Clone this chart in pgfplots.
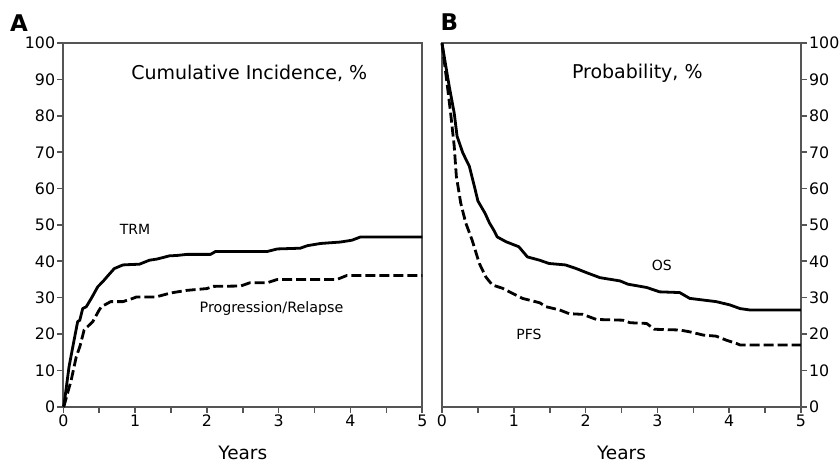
\documentclass[border=0pt]{standalone}
\usepackage{pgfplots}
\pgfplotsset{compat=1.18}
\usepackage{fontspec}
\setmainfont{DejaVu Sans}
\definecolor{axgray}{HTML}{555555}
\begin{document}
\begin{tikzpicture}
\path[use as bounding box] (0pt,0pt) rectangle (839pt,464pt);
\pgfplotsset{
 common/.style={
  scale only axis, width=359pt, height=363.5pt,
  xmin=0,xmax=5,ymin=0,ymax=100,
  xtick={0,1,2,3,4,5}, minor xtick={0.5,1.5,2.5,3.5,4.5},
  ytick={0,10,...,100},
  xtick pos=bottom,
  tick align=outside, major tick length=6pt, minor tick length=6pt,
  axis line style={draw=axgray, line width=1.9pt},
  every outer x axis line/.append style={draw=axgray, line width=1.9pt},
  every outer y axis line/.append style={draw=axgray, line width=1.9pt},
  tick style={draw=axgray, line width=1.6pt},
  tick label style={font=\fontsize{15.8}{18}\selectfont},
  xticklabel style={inner sep=2pt},
  yticklabel style={inner xsep=2pt},
  /pgf/number format/assume math mode=true,
  xlabel={Years},
  xlabel style={font=\fontsize{18.5}{22}\selectfont, at={(rel axis cs:0.5,0)}, anchor=center, yshift=-46pt},
  anchor=south west,
  clip=false,
 },
 solidc/.style={black, line width=2.8pt, line join=round, no markers},
 dashc/.style={black, line width=2.8pt, line join=round, no markers, dash pattern=on 10pt off 4pt},
}
\begin{axis}[common, at={(63.3pt,57.3pt)}, ytick pos=left]
\addplot[solidc] coordinates {
(0,0) (0.01,0.5) (0.08,11) (0.15,18.3) (0.2,23.4) (0.23,23.8) (0.27,27) (0.32,27.5)
(0.39,29.8) (0.48,33) (0.55,34.4) (0.62,36) (0.71,38) (0.83,39) (0.93,39.1)
(1.06,39.2) (1.2,40.3) (1.3,40.6) (1.48,41.5) (1.58,41.6) (1.72,41.9) (2.05,41.9)
(2.12,42.7) (2.84,42.7) (2.98,43.4) (3.3,43.6) (3.4,44.3) (3.58,44.9) (3.86,45.3)
(4.02,45.8) (4.14,46.7) (5,46.7)};
\addplot[dashc] coordinates {
(0,0) (0.01,0.2) (0.11,7.3) (0.18,13.7) (0.23,16.5) (0.29,21.1) (0.41,23.4)
(0.5,26.6) (0.53,27.5) (0.66,28.9) (0.83,28.9) (0.97,29.8) (1.02,30.2) (1.29,30.2)
(1.48,31.2) (1.53,31.4) (1.72,32) (2.0,32.5) (2.09,33.1) (2.47,33.2) (2.6,34.1)
(2.84,34.1) (2.98,35) (3.81,35) (3.95,36.1) (5,36.1)};
\node[font=\fontsize{19}{22}\selectfont] at (axis cs:2.59,91.6) {Cumulative Incidence, \%};
\node[font=\fontsize{14}{17}\selectfont] at (axis cs:1.0,48.9) {TRM};
\node[font=\fontsize{14.3}{17}\selectfont] at (axis cs:2.9,26.9) {Progression/Relapse};
\end{axis}
\begin{axis}[common, at={(442pt,57.3pt)}, ytick pos=right, yticklabel pos=right]
\addplot[solidc] coordinates {
(0,100) (0.1,88.2) (0.17,80.8) (0.21,74.4) (0.29,69.8) (0.38,66.2) (0.45,60.7)
(0.5,56.6) (0.6,53.2) (0.66,50.6) (0.72,48.6) (0.77,46.7) (0.89,45.4) (1.07,44)
(1.19,41.2) (1.36,40.3) (1.49,39.4) (1.72,39) (1.87,38) (2.01,36.9)
(2.2,35.5) (2.48,34.6) (2.59,33.7) (2.85,32.8) (3.03,31.6) (3.31,31.4) (3.45,29.8)
(3.82,28.9) (4.01,28) (4.15,27) (4.29,26.6) (5,26.6)};
\addplot[dashc] coordinates {
(0,100) (0.075,88.2) (0.12,80.8) (0.17,71.7) (0.2,63.4) (0.26,56.1) (0.33,50.6)
(0.42,45.8) (0.52,39.4) (0.61,35.7) (0.7,33.5) (0.84,32.6) (1.12,29.8) (1.36,28.6)
(1.45,27.5) (1.64,26.6) (1.77,25.6) (1.96,25.4) (2.15,24)
(2.52,23.8) (2.62,23.1) (2.85,22.9) (2.96,21.3) (3.31,21.1) (3.45,20.6) (3.64,19.7)
(3.82,19.4) (3.96,18.3) (4.1,17.4) (4.15,17) (5,17)};
\node[font=\fontsize{19}{22}\selectfont] at (axis cs:2.72,91.8) {Probability, \%};
\node[font=\fontsize{14}{17}\selectfont] at (axis cs:3.06,39) {OS};
\node[font=\fontsize{14}{17}\selectfont] at (axis cs:1.21,20) {PFS};
\end{axis}
\node[font=\bfseries\fontsize{23}{26}\selectfont] at (19pt,440.5pt) {A};
\node[font=\bfseries\fontsize{23}{26}\selectfont] at (449.5pt,441.5pt) {B};
\end{tikzpicture}
\end{document}
